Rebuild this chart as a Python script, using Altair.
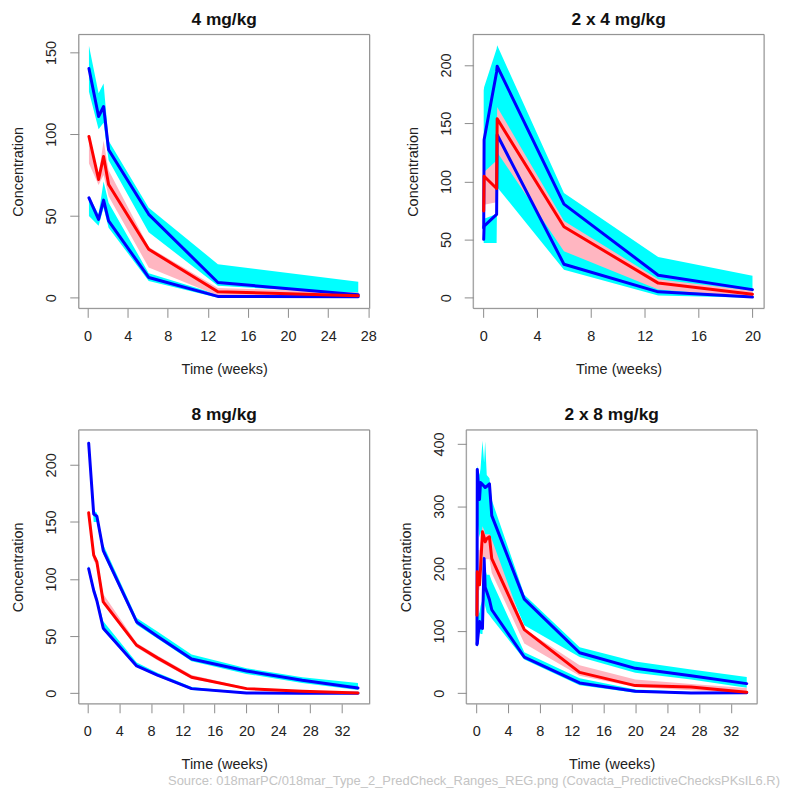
import altair as alt
import pandas as pd

FONT = "Liberation Sans"
CYAN = "#00FFFF"
PINK = "#FFB6C1"
BLUE = "#0000FF"
RED = "#FF0000"
GRAY = "#8c8c8c"
TXT = "#222222"

# ---------------- panel 1 : 4 mg/kg ----------------
p1_time = [0.14, 1.1, 1.6, 2.1, 6.1, 13, 27]
p1_p95 = [140.2, 110.8, 116.9, 90.5, 51.0, 9.3, 1.8]
p1_p95_lo = [126, 103, 107, 84, 40, 7.3, 2.2]
p1_p95_hi = [154, 125, 131, 96, 55, 20.5, 9.7]
p1_med = [98.6, 72.3, 86.4, 69.2, 29.6, 3.7, 1.2]
p1_med_lo = [82, 69, 75, 62, 18.5, 1.2, 0.3]
p1_med_hi = [99, 75, 96, 78, 31, 6, 3.2]
p1_p05 = [61.1, 47.9, 59.7, 47.0, 12.4, 0.8, 0.6]
p1_p05_lo = [50, 44, 55, 42.8, 10.3, 0, 0]
p1_p05_hi = [62, 51, 71, 58, 15, 2, 0.8]

# ---------------- panel 2 : 2 x 4 mg/kg ----------------
p2_time = [0.04, 0.07, 1.0, 1.04, 6.0, 13.0, 20.0]
p2_p95 = [60, 135.8, 194, 199, 80.5, 19.4, 7.0]
p2_p95_lo = [80, 82, 84, 120, 40, 8, 2]
p2_p95_hi = [178, 181, 214, 217, 90, 35, 19]
p2_med = [74.5, 104.4, 93.9, 153.8, 61.0, 12.6, 3.1]
p2_med_lo = [74, 80, 82, 125, 40, 7, 0.5]
p2_med_hi = [100, 108, 118, 164, 66, 16, 6]
p2_p05 = [50.2, 61.6, 71.6, 140.1, 28.8, 5.1, 0.6]
p2_p05_lo = [47, 47, 47, 95, 24, 2, 0]
p2_p05_hi = [68, 68, 72, 145, 45, 10, 3]

# ---------------- panel 3 : 8 mg/kg ----------------
p3_time = [0.17, 0.8, 1.2, 2.0, 6.2, 8.8, 13.1, 20, 27, 34]
p3_p95 = [219, 157, 155, 125, 62.5, 50, 30, 19.5, 11.5, 4.7]
p3_p95_lo = [210, 150, 150, 122, 60, 48, 28, 17, 9, 3]
p3_p95_hi = [222, 160, 158, 130, 66, 54, 34, 22, 14, 9]
p3_med = [158, 121, 115, 80, 42, 31, 14, 4.1, 1.7, 0.2]
p3_med_lo = [152, 116, 112, 78, 40, 29, 12.5, 3.5, 1.2, 0]
p3_med_hi = [160, 123, 118, 87, 44, 33, 16, 5, 2.5, 1]
p3_p05 = [109, 90, 81, 57, 24, 16, 4.1, 0.3, 0, 0]
p3_p05_lo = [105, 88, 79, 55, 23, 15, 3, 0, 0, 0]
p3_p05_hi = [112, 94, 85, 63, 27, 18, 5.5, 1, 0.5, 0.3]

# ---------------- panel 4 : 2 x 8 mg/kg ----------------
p4_time = [0.1, 0.14, 0.42, 0.55, 0.79, 1.0, 1.13, 1.33, 1.67, 1.96, 6.05, 13, 20, 27, 34]
p4_p95 = [80, 359, 311, 338, 335, 332, 330, 332, 336, 285, 151, 65, 40, 28, 15.5]
p4_p95_lo = [80, 280, 250, 260, 230, 200, 230, 240, 250, 230, 109, 58, 33, 22, 9]
p4_p95_hi = [200, 365, 350, 360, 405, 370, 404, 350, 345, 310, 158, 74, 51, 38, 26]
p4_med = [125, 195, 174, 200, 259, 250, 243, 248, 251, 216, 102, 33.6, 12.3, 10, 1.7]
p4_med_lo = [120, 170, 165, 190, 225, 215, 215, 215, 215, 193, 80, 28, 10, 5, 0.8]
p4_med_hi = [170, 230, 230, 240, 268, 262, 255, 255, 255, 247, 103, 45, 22, 15, 8.6]
p4_p05 = [78, 80, 115, 105, 104, 216, 170, 163, 150, 134, 58, 16.6, 3.3, 0.5, 0.8]
p4_p05_lo = [75, 75, 100, 95, 95, 150, 140, 130, 125, 120, 54, 13, 1, 0, 0]
p4_p05_hi = [110, 120, 130, 140, 150, 230, 200, 190, 190, 180, 66, 24, 6, 2, 2]

titles = ["4 mg/kg", "2 x 4 mg/kg", "8 mg/kg", "2 x 8 mg/kg"]
x_domains = [[-0.88, 28.13], [-0.74, 20.86], [-1.08, 35.46], [-1.25, 35.3]]
x_ticks = [[0, 4, 8, 12, 16, 20, 24, 28], [0, 4, 8, 12, 16, 20],
           [0, 4, 8, 12, 16, 20, 24, 28, 32], [0, 4, 8, 12, 16, 20, 24, 28, 32]]
y_domains = [[-6.5, 161], [-9.1, 226.3], [-9.2, 230.6], [-16.9, 422.5]]
y_ticks = [[0, 50, 100, 150], [0, 50, 100, 150, 200],
           [0, 50, 100, 150, 200], [0, 100, 200, 300, 400]]
source = "Source: 018marPC/018mar_Type_2_PredCheck_Ranges_REG.png (Covacta_PredictiveChecksPKsIL6.R)"

W, H = 292, 275


def panel(i, time, p95, p95_lo, p95_hi, med, med_lo, med_hi, p05, p05_lo, p05_hi):
    df = pd.DataFrame(dict(t=time, p95=p95, p95_lo=p95_lo, p95_hi=p95_hi,
                           med=med, med_lo=med_lo, med_hi=med_hi,
                           p05=p05, p05_lo=p05_lo, p05_hi=p05_hi))
    xscale = alt.Scale(domain=x_domains[i], nice=False, zero=False)
    yscale = alt.Scale(domain=y_domains[i], nice=False, zero=False)
    xaxis = alt.Axis(values=x_ticks[i], format="d", domain=False, grid=False,
                     tickSize=9, tickColor=GRAY, tickWidth=1,
                     labelFont=FONT, labelFontSize=14.5, labelColor=TXT,
                     labelPadding=12, labelFlush=False, labelOverlap=False,
                     title="Time (weeks)", titleFont=FONT, titleFontSize=14.5,
                     titleFontWeight="normal", titleColor=TXT,
                     titleY=61, titleBaseline="middle")
    yaxis = alt.Axis(values=y_ticks[i], format="d", domain=False, grid=False,
                     tickSize=9, tickColor=GRAY, tickWidth=1,
                     labelFont=FONT, labelFontSize=14.5, labelColor=TXT,
                     labelAngle=270, labelAlign="center", labelBaseline="bottom",
                     labelPadding=11, labelFlush=False, labelOverlap=False,
                     title="Concentration", titleFont=FONT, titleFontSize=14.5,
                     titleFontWeight="normal", titleColor=TXT, titleAngle=270,
                     titleX=-60, titleY=H / 2, titleAlign="center",
                     titleBaseline="middle")
    x = alt.X("t:Q", scale=xscale, axis=xaxis)

    def band(lo, hi, color):
        return alt.Chart(df).mark_area(color=color, opacity=1).encode(
            x=x, y=alt.Y(f"{lo}:Q", scale=yscale, axis=yaxis), y2=f"{hi}:Q")

    def line(f, color):
        return alt.Chart(df).mark_line(color=color, strokeWidth=3,
                                       strokeCap="round", strokeJoin="round").encode(
            x=x, y=alt.Y(f"{f}:Q", scale=yscale, axis=yaxis))

    frame = alt.Chart(pd.DataFrame({"k": [0]})).mark_rect(
        fillOpacity=0, stroke=GRAY, strokeWidth=1).encode(
        x=alt.value(0), x2=alt.value(W), y=alt.value(0), y2=alt.value(H))

    return alt.layer(
        band("p95_lo", "p95_hi", CYAN),
        band("p05_lo", "p05_hi", CYAN),
        band("med_lo", "med_hi", PINK),
        line("p95", BLUE),
        line("p05", BLUE),
        line("med", RED),
        frame,
    ).properties(
        width=W, height=H,
        title=alt.TitleParams(titles[i], font=FONT, fontSize=17.4, fontWeight="bold",
                              color="#111111", anchor="middle", baseline="middle",
                              offset=-3),
    )


c1 = panel(0, p1_time, p1_p95, p1_p95_lo, p1_p95_hi, p1_med, p1_med_lo, p1_med_hi,
           p1_p05, p1_p05_lo, p1_p05_hi)
c2 = panel(1, p2_time, p2_p95, p2_p95_lo, p2_p95_hi, p2_med, p2_med_lo, p2_med_hi,
           p2_p05, p2_p05_lo, p2_p05_hi)
c3 = panel(2, p3_time, p3_p95, p3_p95_lo, p3_p95_hi, p3_med, p3_med_lo, p3_med_hi,
           p3_p05, p3_p05_lo, p3_p05_hi)
c4 = panel(3, p4_time, p4_p95, p4_p95_lo, p4_p95_hi, p4_med, p4_med_lo, p4_med_hi,
           p4_p05, p4_p05_lo, p4_p05_hi)

row1 = alt.hconcat(c1, c2, spacing=27)
row2 = alt.hconcat(c3, c4, spacing=27)

chart = alt.vconcat(row1, row2, spacing=29).properties(
    title=alt.TitleParams(source, orient="bottom", anchor="end", font=FONT,
                          fontSize=13, fontWeight="normal", color="#c4c4c4",
                          offset=3, baseline="top", dx=15),
    padding={"left": 2, "top": 0, "right": 0, "bottom": 0},
).configure_view(stroke=None).configure(background="white")

chart.save("out.html", embed_options={"renderer": "svg", "actions": False})
